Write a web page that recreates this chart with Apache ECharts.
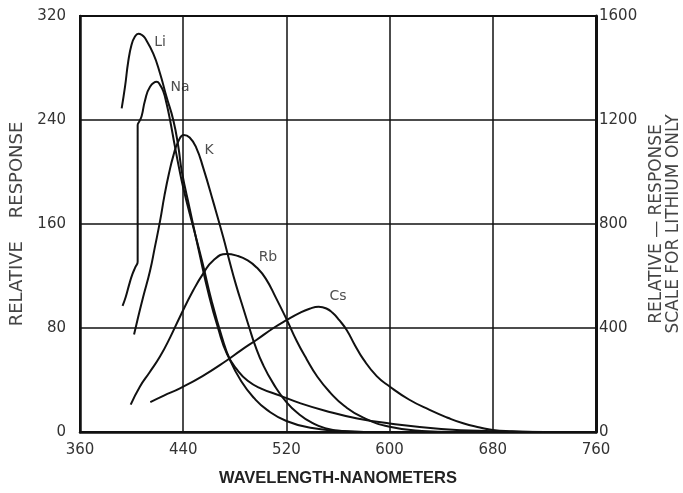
<!DOCTYPE html>
<html>
<head>
<meta charset="utf-8">
<script src="https://cdn.jsdelivr.net/npm/echarts@6/dist/echarts.min.js"></script>
<style>html,body{margin:0;padding:0;background:#fff}#c{width:683px;height:493px}</style>
</head>
<body>
<div id="c"></div>
<script>
// Wavelength ticks (nm) and response ticks
const xTicks = [360, 440, 520, 600, 680, 760];
const yLeftTicks = [0, 80, 160, 240, 320];
const yRightTicks = [0, 400, 800, 1200, 1600];

// Lithium read on the right-hand scale (lithium only)
const li = [[392.3,1245],[394.9,1328],[397.4,1425],[400,1490],[402.5,1520],[405.2,1532],[408,1527],[410.4,1515],[416.8,1455],[422,1380],[427,1290],[432.3,1200],[436.2,1098],[439,1000],[445,860],[452,700],[460,525],[467,400],[474,300],[482,238],[490,197],[500,168],[515,140],[530,112],[550,82],[575,52],[600,33],[640,12],[680,3],[720,0]];
// Others read on the left-hand scale
const na = [[393,97],[395.5,104],[398,113],[400.5,121],[403,127],[404.7,131],[404.7,236],[406,239],[407.8,243],[410.4,255],[414.3,265.6],[419.5,269.5],[422,267],[424.6,262],[427,253],[429.8,240],[433.6,219.5],[437,202],[440,188],[444,172],[448,157],[455,130],[462,101],[470,73],[476,56],[485,39],[495,26],[505,17],[520,8.5],[540,3],[560,1],[580,0]];
const k = [[401.9,75],[405,88],[409,104],[414.3,124],[418,142],[422,162],[425.5,182],[429,199],[432.5,213],[436,223],[440.5,228.5],[445,226.5],[450,219],[455.6,203],[463.3,177],[471,150],[476,131],[481,113],[486.6,95],[491,81],[495.6,67],[502,51.5],[510,37],[520,23],[530,13.5],[540,7],[550,3],[565,0.5],[580,0]];
const rb = [[399.3,21],[406.5,35],[414,46],[422,58],[430,73],[437.5,88.7],[447.8,109],[455.6,122],[463.3,132],[473.7,137],[482,135.5],[490,132],[497,126.5],[504,118],[512,103],[520,87],[528,70],[535.7,56],[544,42.5],[553.8,30.5],[565,20],[579.6,11],[600,4],[625,0.8],[650,0]];
const cs = [[414.5,23],[425,28],[437.5,33.6],[455,43],[473.7,55],[485,63],[497,71],[510,80],[520,86],[530,91.5],[538,94.8],[545,96.3],[551,95],[556,91.5],[561,86],[566.7,78.5],[573,67],[579.6,56],[590,43],[600,35],[615,25],[631,17],[645,11],[657,6.7],[670,3.5],[680,1.5],[695,0.5],[711,0]];

// Curve labels: [text, wavelength, left-scale response]
const curveLabels = [['Li',422,300],['Na',437.5,265],['K',460,217],['Rb',505.7,134.6],['Cs',560,104]];

const chart = echarts.init(document.getElementById('c'));
const font = 'DejaVu Sans';
const lineStyle = {color:'#111', width:2};
function mk(name, data, yIdx){
  return {name, type:'line', data, yAxisIndex:yIdx, smooth:0.5, showSymbol:false, symbol:'none',
    lineStyle, silent:true, animation:false, z:5};
}
const labelSeries = {
  type:'scatter', yAxisIndex:0, symbolSize:0, silent:true, animation:false,
  data: curveLabels.map(l => ({value:[l[1], l[2]], name:l[0]})),
  label:{show:true, position:'inside', formatter:p=>p.name, color:'#222', fontSize:14, fontFamily:font}
};
chart.setOption({
  animation:false,
  backgroundColor:'#fff',
  grid:{left:80, right:87, top:16, bottom:61, show:true, borderColor:'#111', borderWidth:2,
    containLabel:false, outerBoundsMode:'none'},
  xAxis:{type:'value', min:xTicks[0], max:xTicks[xTicks.length-1], interval:80,
    axisLine:{show:true, onZero:false, lineStyle:{color:'#111', width:2.5}},
    axisTick:{show:false},
    axisLabel:{color:'#333', fontSize:15, fontFamily:font, margin:11},
    splitLine:{show:true, lineStyle:{color:'#111', width:1.5}},
    name:'WAVELENGTH-NANOMETERS', nameLocation:'middle', nameGap:38,
    nameTextStyle:{color:'#222', fontSize:16.5, fontWeight:'bold', fontFamily:'Liberation Sans'}},
  yAxis:[
    {type:'value', min:yLeftTicks[0], max:yLeftTicks[yLeftTicks.length-1], interval:80,
      axisLine:{show:true, lineStyle:{color:'#111', width:2.5}}, axisTick:{show:false},
      axisLabel:{color:'#333', fontSize:15, fontFamily:font, margin:14},
      splitLine:{show:true, lineStyle:{color:'#111', width:1.5}},
      name:'RELATIVE    RESPONSE', nameLocation:'middle', nameRotate:90, nameGap:47,
      nameTextStyle:{color:'#444', fontSize:18, fontFamily:font}},
    {type:'value', min:yRightTicks[0], max:yRightTicks[yRightTicks.length-1], interval:400, position:'right',
      axisLine:{show:true, lineStyle:{color:'#111', width:3}}, axisTick:{show:false},
      axisLabel:{color:'#333', fontSize:15, fontFamily:font, margin:3, formatter:v=>String(v)},
      splitLine:{show:false},
      name:'RELATIVE \u2014 RESPONSE\nSCALE FOR LITHIUM ONLY', nameLocation:'middle', nameRotate:90, nameGap:52,
      nameTextStyle:{color:'#444', fontSize:17, fontFamily:font, lineHeight:17}}
  ],
  series:[
    mk('Li', li, 1), mk('Na', na, 0), mk('K', k, 0), mk('Rb', rb, 0), mk('Cs', cs, 0),
    labelSeries
  ]
});
</script>
</body>
</html>
